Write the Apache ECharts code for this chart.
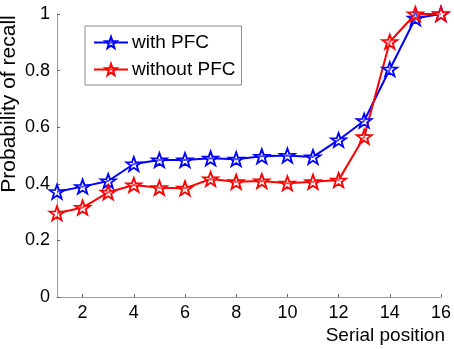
<!DOCTYPE html>
<html>
<head>
<meta charset="utf-8">
<script src="https://cdn.jsdelivr.net/npm/echarts@6/dist/echarts.min.js"></script>
<style>
  html, body { margin: 0; padding: 0; background: #fff; }
  #chart { width: 454px; height: 349px; }
</style>
</head>
<body>
<div id="chart"></div>
<script>
// serial positions 1..16
const positions = [1, 2, 3, 4, 5, 6, 7, 8, 9, 10, 11, 12, 13, 14, 15, 16]
const withPFC = [0.372, 0.39, 0.41, 0.47, 0.484, 0.484, 0.49, 0.487, 0.497, 0.5, 0.495, 0.555, 0.623, 0.805, 0.985, 1.0]
const withoutPFC = [0.296, 0.316, 0.37, 0.396, 0.386, 0.384, 0.417, 0.407, 0.41, 0.402, 0.407, 0.413, 0.566, 0.902, 1.0, 1.0]
const xTicks = [2, 4, 6, 8, 10, 12, 14, 16]
const seriesNames = ['with PFC', 'without PFC']

const star = 'path://M0,-10L2.35,-3.24L9.51,-3.09L3.8,1.24L5.88,8.09L0,4.1L-5.88,8.09L-3.8,1.24L-9.51,-3.09L-2.35,-3.24Z'
const font = 'Liberation Sans, Arial, sans-serif'

function pairs (ys) {
  return positions.map((x, i) => [x, ys[i]])
}

function lineSeries (name, ys, color) {
  return {
    name: name,
    type: 'line',
    data: pairs(ys),
    symbol: star,
    symbolSize: [15, 14],
    showAllSymbol: true,
    lineStyle: { color: color, width: 2 },
    itemStyle: { color: 'rgba(255,255,255,0.3)', borderColor: color, borderWidth: 1.8 },
    emphasis: { disabled: true },
    animation: false
  }
}

let myChart = echarts.init(document.getElementById('chart'))
let option = {
  backgroundColor: '#fff',
  grid: {
    left: 57,
    right: 11,
    top: 14,
    bottom: 52
  },
  legend: {
    orient: 'vertical',
    left: 85,
    top: 26,
    padding: [7, 6, 6, 8],
    itemGap: 8,
    itemWidth: 34,
    itemHeight: 14,
    borderColor: '#8a8a8a',
    borderWidth: 1,
    backgroundColor: '#fff',
    textStyle: { fontFamily: font, fontSize: 19, color: '#000', padding: [0, 0, 0, -1] },
    data: seriesNames
  },
  xAxis: {
    type: 'value',
    min: 1,
    max: 16,
    splitLine: { show: false },
    axisLine: { show: true, lineStyle: { color: '#9a9a9a', width: 1 } },
    axisTick: { show: true, inside: true, length: 3, customValues: xTicks, lineStyle: { color: '#666' } },
    axisLabel: { customValues: xTicks, margin: 7, fontFamily: font, fontSize: 18, color: '#000' },
    name: 'Serial position',
    nameLocation: 'end',
    nameGap: 0,
    nameTextStyle: {
      fontFamily: font,
      fontSize: 19,
      color: '#000',
      align: 'right',
      verticalAlign: 'top',
      padding: [29, -4, 0, 0]
    }
  },
  yAxis: {
    type: 'value',
    min: 0,
    max: 1,
    interval: 0.2,
    splitLine: { show: false },
    axisLine: { show: true, lineStyle: { color: '#9a9a9a', width: 1 } },
    axisTick: { show: true, inside: true, length: 3, lineStyle: { color: '#666' } },
    axisLabel: { margin: 7, fontFamily: font, fontSize: 18, color: '#000' }
  },
  graphic: [
    {
      type: 'text',
      x: 9,
      y: 104,
      rotation: Math.PI / 2,
      style: {
        text: 'Probability of recall',
        fontFamily: font,
        fontSize: 21,
        fill: '#000',
        align: 'center',
        verticalAlign: 'middle'
      }
    }
  ],
  series: [
    lineSeries(seriesNames[0], withPFC, '#0000ff'),
    lineSeries(seriesNames[1], withoutPFC, '#ff0000')
  ]
}
myChart.setOption(option, true)
</script>
</body>
</html>
